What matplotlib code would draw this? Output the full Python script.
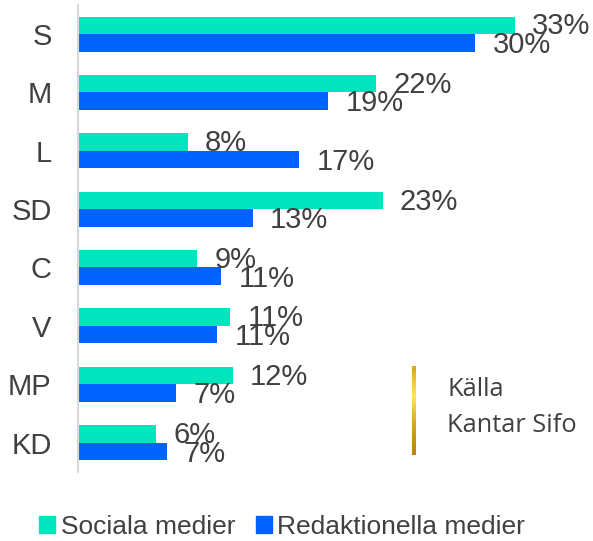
import numpy as np
import matplotlib
matplotlib.use("Agg")
import matplotlib.pyplot as plt
from matplotlib.patches import Patch
from matplotlib.colors import LinearSegmentedColormap

plt.rcParams['font.family'] = ['Liberation Sans', 'DejaVu Sans']

# values
partier = ["S", "M", "L", "SD", "C", "V", "MP", "KD"]
sociala = [33, 22.5, 8.3, 23, 9, 11.5, 11.7, 5.9]
redaktionella = [30, 18.9, 16.7, 13.2, 10.8, 10.5, 7.4, 6.7]
sociala_txt = ["33%", "22%", "8%", "23%", "9%", "11%", "12%", "6%"]
redaktionella_txt = ["30%", "19%", "17%", "13%", "11%", "11%", "7%", "7%"]

teal = "#00E5BE"
blue = "#0063FF"
txtcol = "#404040"

fig = plt.figure(figsize=(5.93, 5.41), dpi=100)
ax = fig.add_axes([0.1315, 0.128, 0.86, 0.863])

y = np.arange(len(partier))
h = 0.3
ax.barh(y - h / 2, sociala, height=h, color=teal)
ax.barh(y + h / 2, redaktionella, height=h, color=blue)

for i in range(len(partier)):
    ax.text(sociala[i] + 1.3, y[i] - h / 2 + 0.02, sociala_txt[i], va="center", ha="left",
            fontsize=21, color=txtcol)
    ax.text(redaktionella[i] + 1.3, y[i] + h / 2 + 0.04, redaktionella_txt[i], va="center", ha="left",
            fontsize=21, color=txtcol)

ax.set_ylim(len(partier) - 0.5, -0.5)
ax.set_xlim(0, 38.5)
ax.set_yticks(y)
ax.set_yticklabels(partier, fontsize=21, color=txtcol)
ax.tick_params(axis="y", length=0, pad=19)
ax.set_xticks([])
for s in ["top", "right", "bottom"]:
    ax.spines[s].set_visible(False)
ax.spines["left"].set_color("#d9d9d9")
ax.spines["left"].set_linewidth(1.5)

# legend
handles = [Patch(color=teal, label="Sociala medier"),
           Patch(color=blue, label="Redaktionella medier")]
fig.legend(handles=handles, loc="center", bbox_to_anchor=(0.476, 0.026), ncol=2,
           frameon=False, fontsize=19, handlelength=0.6, handleheight=0.6,
           handletextpad=0.2, columnspacing=0.8, labelcolor=txtcol)

# source note with gold gradient line
gold = LinearSegmentedColormap.from_list("gold", ["#d9a520", "#ffe566", "#d4a32a", "#b8860b"])
lax = fig.add_axes([412 / 593, 1 - 455 / 541, 4 / 593, 89 / 541])
lax.imshow(np.linspace(0, 1, 100).reshape(-1, 1), cmap=gold, aspect="auto")
lax.axis("off")
fig.text(447 / 593, 1 - 389 / 541, "Källa", fontsize=18.3, color=txtcol,
         family="Open Sans", va="center", ha="left")
fig.text(447 / 593, 1 - 426 / 541, "Kantar Sifo", fontsize=18.3, color=txtcol,
         family="Open Sans", va="center", ha="left")

fig.savefig("out.png", dpi=100)
